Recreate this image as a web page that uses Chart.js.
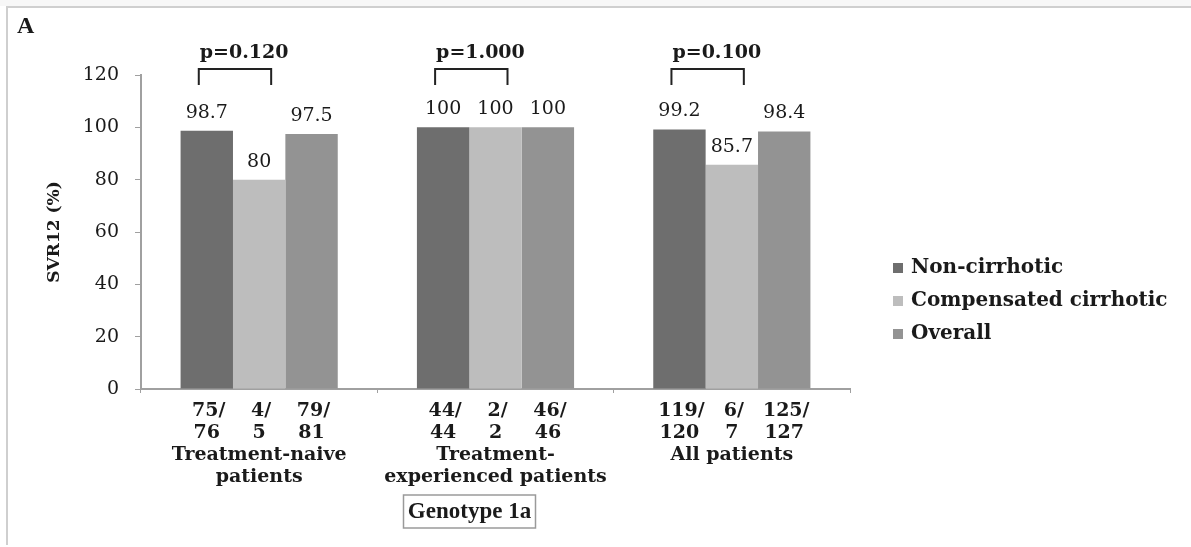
<!DOCTYPE html>
<html lang="en">
<head>
    <meta charset="UTF-8">
    <title>SVR12 Genotype 1a</title>
    <script src="https://cdn.jsdelivr.net/npm/chart.js@4.4.0/dist/chart.umd.min.js"></script>
    <style>
        html, body { margin: 0; padding: 0; background: #fff; }
        #wrap { width: 1191px; height: 547px; }
    </style>
</head>
<body>
    <div id="wrap"><canvas id="svrChart" width="1191" height="547"></canvas></div>
    <script>
        // data
        const categories = [['Treatment-naive', 'patients'], ['Treatment-', 'experienced patients'], ['All patients']];
        const nonCirrhotic = [98.7, 100, 99.2];
        const compensated = [80, 100, 85.7];
        const overall = [97.5, 100, 98.4];
        const nonCirrhoticN = [['75/', '76'], ['44/', '44'], ['119/', '120']];
        const compensatedN = [['4/', '5'], ['2/', '2'], ['6/', '7']];
        const overallN = [['79/', '81'], ['46/', '46'], ['125/', '127']];
        const pValues = ['p=0.120', 'p=1.000', 'p=0.100'];
        const yTicks = [0, 20, 40, 60, 80, 100, 120];

        const serif = '"DejaVu Serif", serif';
        const ink = '#1a1a1a';

        const annotate = {
            id: 'annotate',
            beforeDraw(chart) {
                const ctx = chart.ctx;
                ctx.save();
                ctx.fillStyle = '#fff';
                ctx.fillRect(0, 0, chart.width, chart.height);
                ctx.fillStyle = '#f7f7f7';
                ctx.fillRect(0, 0, chart.width, 6);
                ctx.strokeStyle = '#cfcfcf';
                ctx.lineWidth = 2;
                ctx.beginPath();
                ctx.moveTo(7, chart.height - 2);
                ctx.lineTo(7, 7);
                ctx.lineTo(chart.width, 7);
                ctx.stroke();
                ctx.restore();
            },
            afterDatasetsDraw(chart) {
                const ctx = chart.ctx;
                const area = chart.chartArea;
                const counts = [nonCirrhoticN, compensatedN, overallN];
                ctx.save();
                ctx.fillStyle = ink;
                ctx.textAlign = 'center';
                ctx.textBaseline = 'middle';

                chart.data.datasets.forEach((ds, di) => {
                    const meta = chart.getDatasetMeta(di);
                    meta.data.forEach((bar, i) => {
                        // value above bar
                        ctx.font = '19px ' + serif;
                        ctx.fillText(String(ds.data[i]), bar.x, bar.y - 18);
                        // n/N under bar
                        ctx.font = 'bold 19px ' + serif;
                        ctx.fillText(counts[di][i][0], bar.x + 2, area.bottom + 22);
                        ctx.fillText(counts[di][i][1], bar.x, area.bottom + 44);
                    });
                });

                // p-value brackets
                const m0 = chart.getDatasetMeta(0);
                const m1 = chart.getDatasetMeta(1);
                ctx.strokeStyle = '#222';
                ctx.lineWidth = 2;
                pValues.forEach((p, i) => {
                    const l = m0.data[i].x - 8;
                    const r = m1.data[i].x + 12;
                    const top = area.top - 6;
                    ctx.beginPath();
                    ctx.moveTo(l, area.top + 10);
                    ctx.lineTo(l, top);
                    ctx.lineTo(r, top);
                    ctx.lineTo(r, area.top + 10);
                    ctx.stroke();
                    ctx.font = 'bold 19px ' + serif;
                    ctx.textAlign = 'left';
                    ctx.fillText(p, l + 1, area.top - 22);
                });

                // legend
                ctx.textAlign = 'left';
                chart.data.datasets.forEach((ds, di) => {
                    const y = area.top + 193 + di * 33;
                    ctx.fillStyle = ds.backgroundColor;
                    ctx.fillRect(area.right + 43, y - 5, 10, 10);
                    ctx.fillStyle = ink;
                    ctx.font = 'bold 20px ' + serif;
                    ctx.fillText(ds.label, area.right + 61, y);
                });

                // panel letter
                ctx.font = 'bold 24px "Liberation Serif", serif';
                ctx.fillText('A', 17, 27);

                // genotype box
                const gx = chart.scales.x.getPixelForValue(1) - 26;
                const gy = area.bottom + 122;
                ctx.strokeStyle = '#9a9a9a';
                ctx.lineWidth = 1.5;
                ctx.strokeRect(gx - 66, gy - 16, 132, 33);
                ctx.textAlign = 'center';
                ctx.font = 'bold 23px "Liberation Serif", serif';
                ctx.fillText('Genotype 1a', gx, gy + 1);
                ctx.restore();
            }
        };

        new Chart(document.getElementById('svrChart'), {
            type: 'bar',
            data: {
                labels: categories,
                datasets: [
                    { label: 'Non-cirrhotic', data: nonCirrhotic, backgroundColor: '#6e6e6e' },
                    { label: 'Compensated cirrhotic', data: compensated, backgroundColor: '#bdbdbd' },
                    { label: 'Overall', data: overall, backgroundColor: '#939393' }
                ]
            },
            options: {
                responsive: false,
                animation: false,
                layout: { padding: { left: 0, right: 341, top: 75, bottom: 0 } },
                plugins: { legend: { display: false }, tooltip: { enabled: false } },
                datasets: { bar: { barPercentage: 1, categoryPercentage: 0.665 } },
                scales: {
                    x: {
                        afterFit(scale) { scale.height = 158; },
                        grid: { drawOnChartArea: false, tickLength: 4, color: '#a0a0a0' },
                        border: { color: '#a0a0a0', width: 2 },
                        ticks: {
                            color: ink,
                            padding: 51,
                            maxRotation: 0,
                            autoSkip: false,
                            font: { family: serif, size: 19, weight: 'bold', lineHeight: '22px' }
                        }
                    },
                    y: {
                        min: 0,
                        max: 120,
                        afterFit(scale) { scale.width = 141; },
                        afterBuildTicks(scale) { scale.ticks = yTicks.map(v => ({ value: v })); },
                        grid: { drawOnChartArea: false, tickLength: 6, color: '#a0a0a0' },
                        border: { color: '#a0a0a0', width: 2 },
                        ticks: {
                            color: ink,
                            padding: 16,
                            font: { family: serif, size: 19 }
                        },
                        title: {
                            display: true,
                            text: 'SVR12 (%)',
                            color: ink,
                            padding: { top: 44, bottom: 0 },
                            font: { family: serif, size: 17, weight: 'bold' }
                        }
                    }
                }
            },
            plugins: [annotate]
        });
    </script>
</body>
</html>
